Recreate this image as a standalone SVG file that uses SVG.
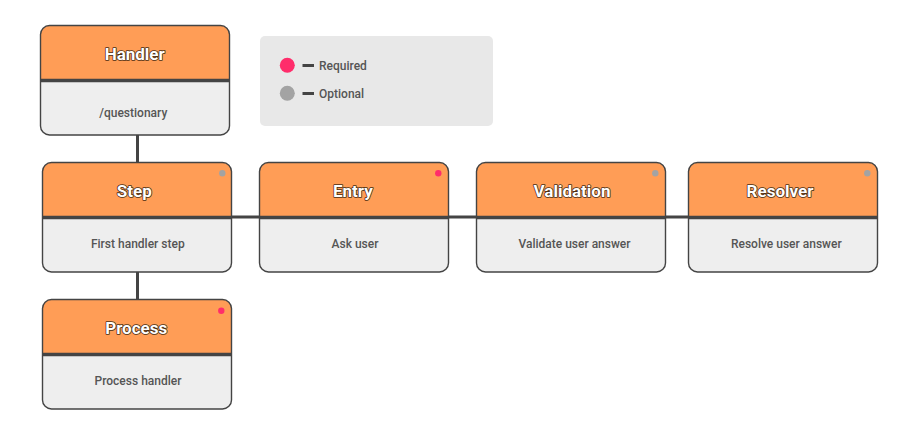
<svg xmlns="http://www.w3.org/2000/svg" width="908" height="435" viewBox="0 0 908 435">
<defs>
<style>
.hd{fill:#FF9D56}
.bd{fill:#EEEEEE}
.frame{fill:none;stroke:#444;stroke-width:1.4}
.div{stroke:#444;stroke-width:3.5}
.conn{stroke:#444;stroke-width:3;fill:none}
.title{font-family:Roboto,"Liberation Sans",sans-serif;font-weight:700;font-size:17px;fill:#fff;stroke:#4a2e14;stroke-width:1.6;paint-order:stroke;stroke-linejoin:round;text-anchor:middle}
.body{font-family:Roboto,"Liberation Sans",sans-serif;font-weight:500;font-size:12px;fill:#555;text-anchor:middle}
.leg{font-family:Roboto,"Liberation Sans",sans-serif;font-weight:500;font-size:12px;fill:#555}
.req{fill:#FF2D6B}
.opt{fill:#A3A3A3}
</style>
<clipPath id="c"><rect x="0" y="0" width="189" height="109.5" rx="9"/></clipPath>
<g id="card">
<g clip-path="url(#c)">
<rect x="0" y="0" width="189" height="109.5" class="bd"/>
<rect x="0" y="0" width="189" height="55" class="hd"/>
</g>
<line x1="0" y1="55" x2="189" y2="55" class="div"/>
<rect x="0" y="0" width="189" height="109.5" rx="9" class="frame"/>
</g>
</defs>

<g id="connectors">
<line x1="137.5" y1="134" x2="137.5" y2="163" class="conn"/>
<line x1="137.5" y1="272" x2="137.5" y2="300" class="conn"/>
<line x1="231" y1="217" x2="689" y2="217" class="conn"/>
</g>

<g id="legend">
<rect x="260" y="36" width="233" height="90" rx="5" fill="#E8E8E8"/>
<circle cx="287.3" cy="65.3" r="7.5" class="req"/>
<line x1="302.5" y1="65.5" x2="314" y2="65.5" stroke="#444" stroke-width="3"/>
<text x="319" y="69.5" class="leg">Required</text>
<circle cx="287.3" cy="93.3" r="7.5" class="opt"/>
<line x1="302.5" y1="93.5" x2="314" y2="93.5" stroke="#444" stroke-width="3"/>
<text x="319" y="97.5" class="leg">Optional</text>
</g>

<g id="node-handler">
<use href="#card" x="40.5" y="25.5"/>
<text x="134.7" y="59.5" class="title">Handler</text>
<text x="133.3" y="116.5" class="body">/questionary</text>
</g>

<g id="node-step">
<use href="#card" x="42.5" y="162.5"/>
<circle cx="222.3" cy="173.3" r="3.2" class="opt"/>
<text x="134.3" y="197" class="title">Step</text>
<text x="137.8" y="248.3" class="body">First handler step</text>
</g>

<g id="node-entry">
<use href="#card" x="259.5" y="162.5"/>
<circle cx="438.3" cy="173.3" r="3.2" class="req"/>
<text x="352.8" y="197" class="title">Entry</text>
<text x="355" y="248.3" class="body">Ask user</text>
</g>

<g id="node-validation">
<use href="#card" x="476.5" y="162.5"/>
<circle cx="655.3" cy="173.3" r="3.2" class="opt"/>
<text x="572" y="197" class="title">Validation</text>
<text x="574.5" y="248.3" class="body">Validate user answer</text>
</g>

<g id="node-resolver">
<use href="#card" x="688.5" y="162.5"/>
<circle cx="867.3" cy="173.3" r="3.2" class="opt"/>
<text x="780" y="197" class="title">Resolver</text>
<text x="786.3" y="248.3" class="body">Resolve user answer</text>
</g>

<g id="node-process">
<use href="#card" x="42.5" y="299.5"/>
<circle cx="221.3" cy="310.7" r="3.2" class="req"/>
<text x="136.2" y="334" class="title">Process</text>
<text x="138" y="385.3" class="body">Process handler</text>
</g>
</svg>
